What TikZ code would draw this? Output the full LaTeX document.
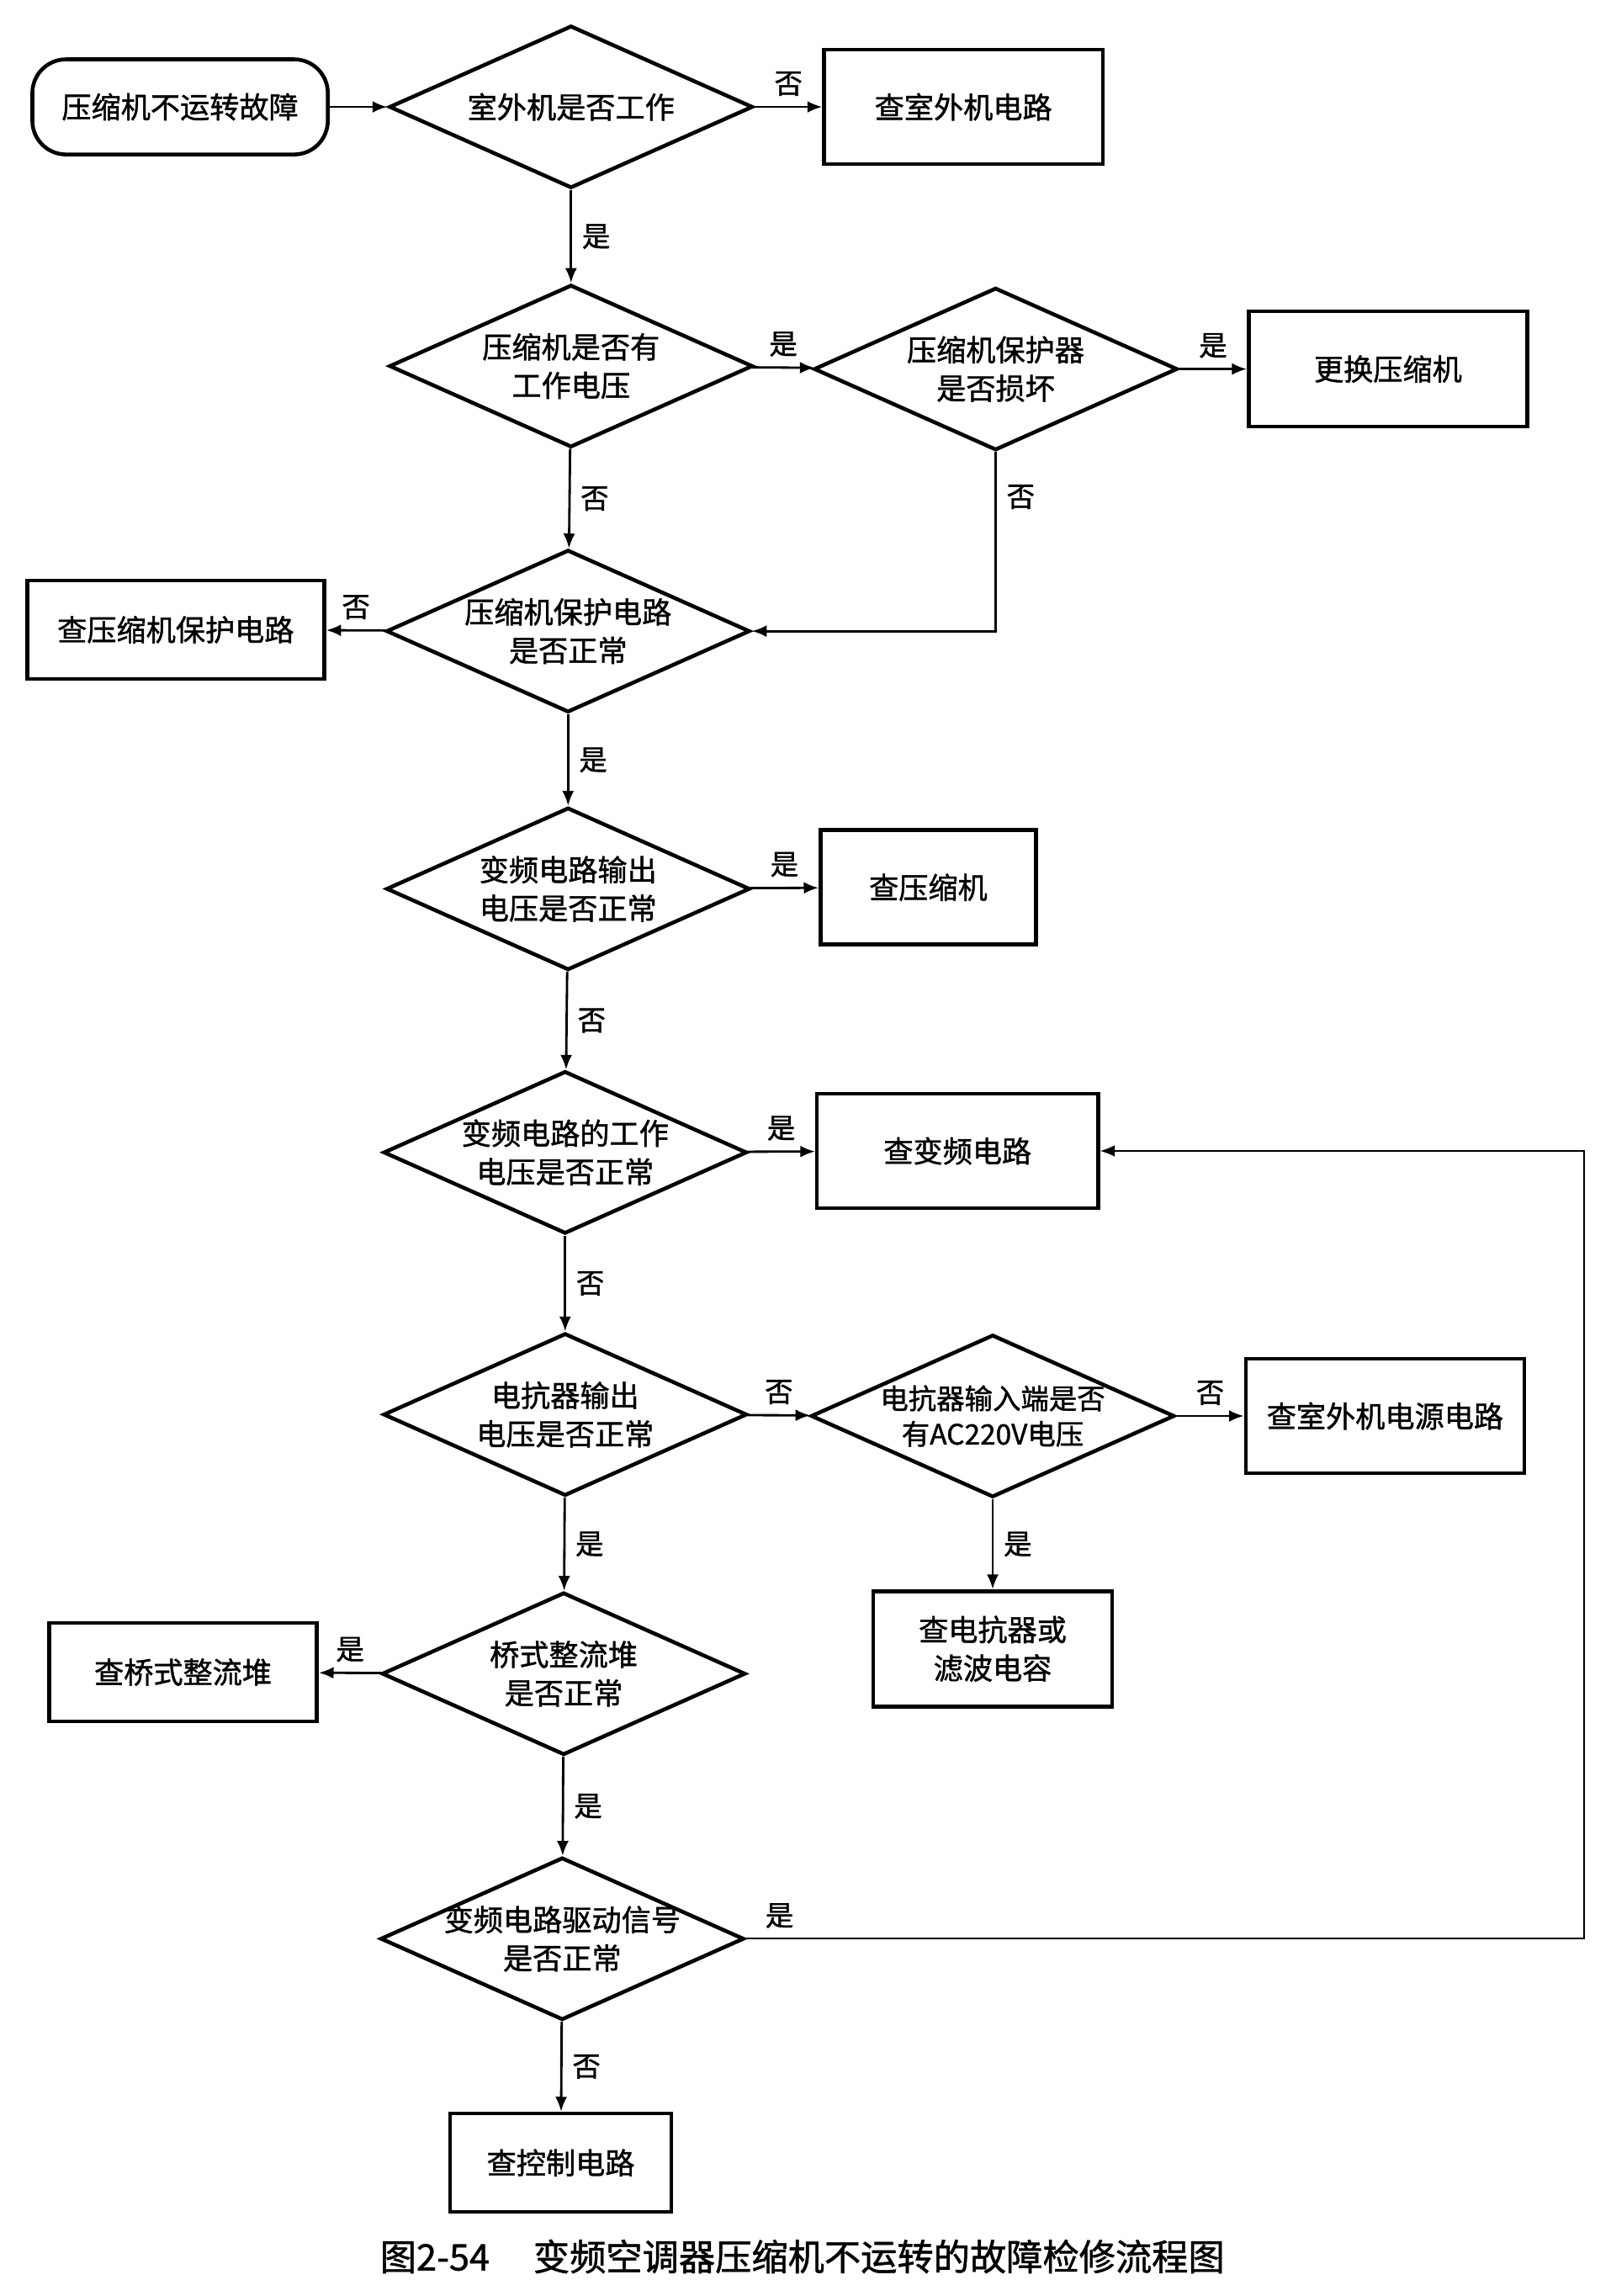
\documentclass[tikz,border=0pt]{standalone}
\usepackage{fontspec}
\setmainfont[FakeBold=1.2]{Noto Sans CJK SC}
\usetikzlibrary{shapes.geometric, arrows.meta, positioning}

\begin{document}
\begin{tikzpicture}[
        x=0.0174cm, y=-0.0174cm,
        every node/.style={font=\fontsize{10}{13}\selectfont},
        decision/.style={diamond, draw, line width=1.3pt, aspect=2.25, inner xsep=-4mm, inner ysep=0pt, align=center, minimum width=4.32cm, minimum height=1.93cm},
        action/.style={rectangle, draw, line width=1.3pt, align=center, minimum width=3.31cm, minimum height=1.36cm},
        terminal/.style={rectangle, draw, rounded corners=0.4cm, line width=1.3pt, minimum width=3.51cm, minimum height=1.13cm},
        arrow/.style={-{Latex[length=5pt,width=4pt]}, line width=0.8pt},
        tag/.style={font=\fontsize{9.5}{11}\selectfont}
    ]
        \useasboundingbox (0,0) rectangle (1100,1568);

        \node[terminal] (start) at (123,73) {压缩机不运转故障};
        \node[decision] (outdoor) at (390,73) {室外机是否工作};
        \node[action] (chkoutdoor) at (658,73) {查室外机电路};
        \node[decision] (compv) at (390,250) {压缩机是否有\\工作电压};
        \node[decision] (protdev) at (680,252) {压缩机保护器\\是否损坏};
        \node[action, minimum height=1.37cm] (replace) at (948,252) {更换压缩机};
        \node[decision] (protcirc) at (388,431) {压缩机保护电路\\是否正常};
        \node[action, minimum width=3.53cm, minimum height=1.17cm] (chkprot) at (120,430) {查压缩机保护电路};
        \node[decision] (invout) at (388,607) {变频电路输出\\电压是否正常};
        \node[action, minimum width=2.56cm] (chkcomp) at (634,606) {查压缩机};
        \node[decision] (invwork) at (386,787) {变频电路的工作\\电压是否正常};
        \node[action, minimum width=3.34cm] (chkinv) at (654,786) {查变频电路};
        \node[decision] (reactout) at (386,966) {电抗器输出\\电压是否正常};
        \node[decision, font=\fontsize{9.5}{12}\selectfont] (reactin) at (678,967) {电抗器输入端是否\\有AC220V电压};
        \node[action] (chkpower) at (946,967) {查室外机电源电路};
        \node[action, minimum width=2.84cm, minimum height=1.37cm] (chkreact) at (678,1126) {查电抗器或\\滤波电容};
        \node[decision] (bridge) at (385,1143) {桥式整流堆\\是否正常};
        \node[action, minimum width=3.18cm, minimum height=1.17cm] (chkbridge) at (125,1142) {查桥式整流堆};
        \node[decision] (drive) at (384,1324) {变频电路驱动信号\\是否正常};
        \node[action, minimum width=2.63cm, minimum height=1.17cm] (chkctrl) at (383,1477) {查控制电路};
        \coordinate (loop) at (1082,1324);

        \node[font=\fontsize{12.3}{14}\selectfont] (caption) at (548,1541) {图2-54\hspace{1.2em}变频空调器压缩机不运转的故障检修流程图};

        \draw[arrow] (start) -- (outdoor);
        \draw[arrow] (outdoor) -- node[above, tag] {否} (chkoutdoor);
        \draw[arrow] (outdoor) -- node[right, tag] {是} (compv);
        \draw[arrow] (compv) -- node[above, tag] {是} (protdev);
        \draw[arrow] (protdev) -- node[above, tag] {是} (replace);
        \draw[arrow] (protdev.south) -- node[right, tag, pos=0.25] {否} (protdev.south |- protcirc.east) -- (protcirc.east);
        \draw[arrow] (compv) -- node[right, tag] {否} (protcirc);
        \draw[arrow] (protcirc) -- node[above, tag] {否} (chkprot);
        \draw[arrow] (protcirc) -- node[right, tag] {是} (invout);
        \draw[arrow] (invout) -- node[above, tag] {是} (chkcomp);
        \draw[arrow] (invout) -- node[right, tag] {否} (invwork);
        \draw[arrow] (invwork) -- node[above, tag] {是} (chkinv);
        \draw[arrow] (invwork) -- node[right, tag] {否} (reactout);
        \draw[arrow] (reactout) -- node[above, tag] {否} (reactin);
        \draw[arrow] (reactin) -- node[above, tag] {否} (chkpower);
        \draw[arrow] (reactin) -- node[right, tag] {是} (chkreact);
        \draw[arrow] (reactout) -- node[right, tag] {是} (bridge);
        \draw[arrow] (bridge) -- node[above, tag] {是} (chkbridge);
        \draw[arrow] (bridge) -- node[right, tag] {是} (drive);
        \draw[arrow, line width=0.6pt] (drive.east) -- node[above, tag, pos=0.04] {是} (loop) |- (chkinv.east);
        \draw[arrow] (drive) -- node[right, tag] {否} (chkctrl);
    \end{tikzpicture}
\end{document}
